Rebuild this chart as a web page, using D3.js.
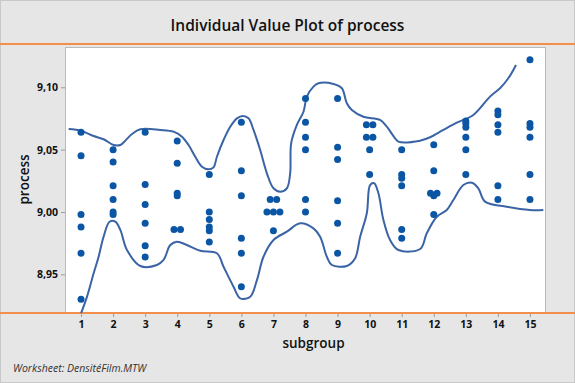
<!DOCTYPE html>
<html>
<head>
<meta charset="utf-8">
<script src="https://cdn.jsdelivr.net/npm/d3@7"></script>
<style>
  html, body { margin: 0; padding: 0; background: #e6e6e6; }
  svg { display: block; font-family: "Open Sans", "Noto Sans", sans-serif; }
</style>
</head>
<body>
<svg id="chart" width="575" height="383"></svg>
<script>
// ---------- data ----------
const subgroups = [1,2,3,4,5,6,7,8,9,10,11,12,13,14,15];
const values = [
  [9.064, 9.045, 8.998, 8.988, 8.967, 8.930],
  [9.050, 9.040, 9.021, 9.010, 9.000, 8.998],
  [9.064, 9.022, 9.006, 8.991, 8.973, 8.964],
  [9.057, 9.039, 9.015, 9.013, 8.986, 8.986],
  [9.030, 9.000, 8.994, 8.988, 8.985, 8.976],
  [9.072, 9.033, 9.013, 8.979, 8.967, 8.940],
  [9.010, 9.010, 9.000, 9.000, 9.000, 8.985],
  [9.091, 9.072, 9.060, 9.050, 9.010, 9.000],
  [9.091, 9.052, 9.042, 9.009, 8.991, 8.967],
  [9.070, 9.070, 9.060, 9.060, 9.050, 9.030],
  [9.050, 9.030, 9.027, 9.021, 8.986, 8.979],
  [9.054, 9.033, 9.015, 9.015, 9.013, 8.998],
  [9.073, 9.071, 9.068, 9.060, 9.050, 9.030],
  [9.081, 9.078, 9.070, 9.064, 9.021, 9.010],
  [9.122, 9.071, 9.068, 9.060, 9.030, 9.010]
];
const yTicks = [8.95, 9.00, 9.05, 9.10];
const yTickLabels = ["8,95", "9,00", "9,05", "9,10"];
// hand-drawn envelope curves: [subgroup position, process value]
const upperCurve = [
  [0.614,9.0666],[1.000,9.0652],[1.393,9.0609],[1.704,9.0583],[2.016,9.0537],[2.225,9.0537],
  [2.380,9.0572],[2.589,9.0625],[2.848,9.0663],[3.471,9.0658],[3.886,9.0644],[4.147,9.0604],
  [4.353,9.0537],[4.562,9.0443],[4.771,9.0363],[4.976,9.0342],[5.132,9.0358],[5.238,9.0443],
  [5.444,9.0577],[5.653,9.0684],[5.861,9.0751],[6.048,9.0770],[6.223,9.0751],[6.379,9.0658],
  [6.587,9.0497],[6.796,9.0310],[7.002,9.0190],[7.210,9.0163],[7.419,9.0190],[7.522,9.0310],
  [7.553,9.0551],[7.731,9.0698],[7.937,9.0804],[8.043,9.0925],[8.248,9.1005],[8.404,9.1032],
  [8.872,9.1026],[9.133,9.0992],[9.289,9.0872],[9.445,9.0818],[9.806,9.0764],[10.327,9.0738],
  [10.535,9.0684],[10.794,9.0591],[10.897,9.0564],[11.573,9.0572],[11.885,9.0599],[12.300,9.0658],
  [12.717,9.0716],[13.234,9.0778],[13.755,9.0925],[14.066,9.0992],[14.325,9.1072],[14.565,9.1179]
];
const lowerCurve = [
  [1.000,8.9187],[1.187,8.9321],[1.393,8.9508],[1.548,8.9641],[1.704,8.9802],[1.891,8.9922],
  [2.069,8.9922],[2.225,8.9856],[2.433,8.9695],[2.848,8.9567],[3.368,8.9575],[3.574,8.9615],
  [3.783,8.9735],[3.992,8.9762],[4.303,8.9735],[4.718,8.9689],[5.238,8.9669],[5.444,8.9561],
  [5.755,8.9401],[5.964,8.9308],[6.276,8.9321],[6.485,8.9454],[6.690,8.9641],[7.002,8.9775],
  [7.419,8.9842],[7.834,8.9909],[8.248,8.9869],[8.457,8.9802],[8.666,8.9641],[8.822,8.9575],
  [9.289,8.9567],[9.548,8.9629],[9.704,8.9802],[9.912,8.9990],[10.015,9.0216],[10.140,9.0230],
  [10.274,9.0150],[10.430,8.9936],[10.638,8.9775],[10.897,8.9695],[11.573,8.9703],[11.782,8.9829],
  [12.094,8.9962],[12.405,9.0016],[12.611,9.0096],[12.923,9.0216],[13.184,9.0235],[13.390,9.0190],
  [13.599,9.0083],[14.275,9.0042],[15.001,9.0016],[15.416,9.0016]
];
const title = "Individual Value Plot of process";
const xTitle = "subgroup";
const yTitle = "process";
const footnote = "Worksheet: DensitéFilm.MTW";

// ---------- layout ----------
const W = 575, H = 383;
const plot = { left: 65, right: 546, top: 47, bottom: 312 };
const svg = d3.select("#chart");

svg.append("rect").attr("x", 0.5).attr("y", 0.5).attr("width", W - 1).attr("height", H - 1)
  .attr("fill", "#e6e6e6").attr("stroke", "#c9c9c9");

const x = d3.scaleLinear().domain([0.5, 15.5]).range([plot.left, plot.right]);
const y = d3.scaleLinear().domain([8.9198, 9.1323]).range([plot.bottom, plot.top]);

// plot area
svg.append("rect").attr("x", plot.left + 0.5).attr("y", plot.top + 0.5)
  .attr("width", plot.right - plot.left - 1).attr("height", plot.bottom - plot.top)
  .attr("fill", "#ffffff").attr("stroke", "#b9b9b9");

svg.append("clipPath").attr("id", "clip").append("rect")
  .attr("x", plot.left + 1).attr("y", plot.top + 1)
  .attr("width", plot.right - plot.left - 2).attr("height", plot.bottom - plot.top);

// title
svg.append("text").attr("x", W / 2).attr("y", 31).attr("text-anchor", "middle")
  .attr("font-size", 15.5).attr("font-weight", 600).attr("fill", "#111").text(title);

// axes
const xAxis = d3.axisBottom(x).tickValues(subgroups).tickSize(4).tickPadding(4).tickFormat(d3.format("d"));
const gx = svg.append("g").attr("transform", `translate(0,${plot.bottom + 1})`).call(xAxis);
gx.select(".domain").remove();
gx.selectAll(".tick line").attr("stroke", "#9a9a9a");
gx.selectAll(".tick text").attr("font-size", 10.5).attr("font-weight", 700).attr("fill", "#111")
  .attr("font-family", "'Open Sans', sans-serif");

const yAxis = d3.axisLeft(y).tickValues(yTicks).tickSize(4).tickPadding(3)
  .tickFormat((d, i) => yTickLabels[i]);
const gy = svg.append("g").attr("transform", `translate(${plot.left},0)`).call(yAxis);
gy.select(".domain").remove();
gy.selectAll(".tick line").attr("stroke", "#9a9a9a");
gy.selectAll(".tick text").attr("font-size", 10.5).attr("font-weight", 700).attr("fill", "#111")
  .attr("font-family", "'Open Sans', sans-serif");

// orange separators
svg.append("line").attr("x1", 0).attr("x2", W).attr("y1", 44).attr("y2", 44)
  .attr("stroke", "#f28f4c").attr("stroke-width", 2);
svg.append("line").attr("x1", 0).attr("x2", W).attr("y1", 313).attr("y2", 313)
  .attr("stroke", "#f28f4c").attr("stroke-width", 2);

// axis titles
svg.append("text").attr("x", (plot.left + plot.right) / 2 + 8).attr("y", 348).attr("text-anchor", "middle")
  .attr("font-size", 13.5).attr("font-weight", 600).attr("fill", "#111").text(xTitle);
svg.append("text").attr("transform", `translate(29,${(plot.top + plot.bottom) / 2}) rotate(-90)`)
  .attr("text-anchor", "middle").attr("font-size", 13.5).attr("font-weight", 600).attr("fill", "#111").text(yTitle);

// footnote
svg.append("text").attr("x", 13).attr("y", 372).attr("font-size", 10.5).attr("font-style", "italic")
  .attr("fill", "#333").text(footnote);

// envelope curves
const line = d3.line().x(d => x(d[0])).y(d => y(d[1])).curve(d3.curveCatmullRom.alpha(0.5));
const curves = svg.append("g").attr("clip-path", "url(#clip)");
[upperCurve, lowerCurve].forEach(c => {
  curves.append("path").attr("d", line(c)).attr("fill", "none")
    .attr("stroke", "#3a64a6").attr("stroke-width", 2).attr("stroke-linejoin", "round");
});

// points with horizontal dodge for tied values
const pts = [];
const spacing = 6.5;
subgroups.forEach((s, i) => {
  const groups = d3.group(values[i], v => v.toFixed(3));
  groups.forEach(arr => {
    arr.forEach((v, k) => {
      pts.push({ s, v, dx: (k - (arr.length - 1) / 2) * spacing });
    });
  });
});
svg.append("g").selectAll("circle").data(pts).join("circle")
  .attr("cx", d => x(d.s) + d.dx).attr("cy", d => y(d.v)).attr("r", 3.5)
  .attr("fill", "#0b56a4");
</script>
</body>
</html>
